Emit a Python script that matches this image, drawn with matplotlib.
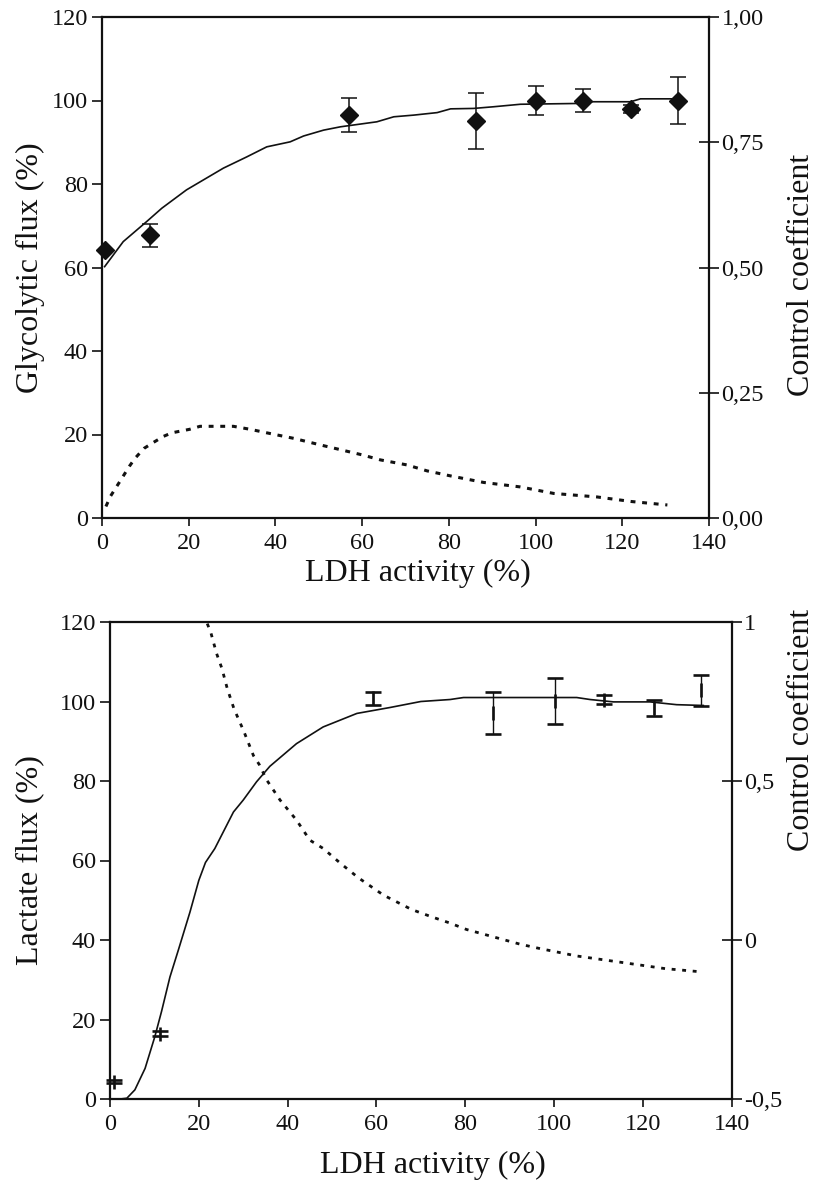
import matplotlib
matplotlib.use("Agg")
import matplotlib.pyplot as plt
import numpy as np

# ---------------- data: top panel (glycolytic flux) ----------------
top_pts_x = [0.6, 11.1, 57.0, 86.2, 100.1, 111.0, 122.1, 132.9]
top_pts_y = [64.2, 67.7, 96.6, 95.05, 100.0, 100.0, 98.0, 100.0]
top_pts_err = [0.0, 2.7, 4.1, 6.65, 3.5, 2.8, 0.9, 5.6]

top_fit_x = [0.6, 4.9, 10.3, 13.8, 19.5, 28.0, 33.4, 38.0, 43.4, 46.5, 51.1, 55.0,
             63.4, 67.3, 71.9, 77.3, 80.4, 85.7, 90.3, 96.5, 110.4, 111.9, 121.9,
             124.2, 133.4]
top_fit_y = [60.2, 66.2, 71.0, 74.2, 78.6, 83.8, 86.5, 88.9, 90.1, 91.5, 92.9, 93.7,
             94.9, 96.1, 96.5, 97.1, 98.0, 98.1, 98.5, 99.1, 99.3, 99.7, 99.7,
             100.4, 100.4]

top_cc_x = [0.9, 2.0, 4.2, 6.3, 7.6, 9.7, 11.7, 14.2, 16.1, 20.2, 22.6, 30.3, 34.2,
            38.0, 44.2, 50.3, 54.2, 60.0, 64.2, 70.3, 75.0, 80.4, 88.0, 96.5,
            104.2, 114.2, 122.0, 130.4]
top_cc_y = [0.023, 0.044, 0.074, 0.103, 0.119, 0.139, 0.150, 0.163, 0.170, 0.177,
            0.183, 0.183, 0.177, 0.170, 0.159, 0.146, 0.138, 0.126, 0.116, 0.106,
            0.094, 0.084, 0.071, 0.062, 0.049, 0.042, 0.033, 0.026]

# ---------------- data: bottom panel (lactate flux) ----------------
bot_pts_x = [0.9, 11.3, 59.3, 86.2, 100.2, 111.3, 122.4, 133.0]
bot_pts_y = [4.4, 16.4, 100.8, 97.1, 100.15, 100.5, 98.4, 102.8]
bot_pts_err = [0.3, 0.6, 1.7, 5.4, 5.85, 1.05, 2.1, 3.9]

bot_fit_x = [0.0, 2.3, 3.8, 5.6, 7.9, 10.1, 11.6, 13.5, 15.4, 18.0, 20.0, 21.5, 23.6,
             27.8, 30.0, 33.0, 36.0, 42.0, 48.0, 55.6, 63.1, 70.0, 76.6, 79.6,
             105.1, 108.1, 113.4, 121.6, 127.6, 133.6]
bot_fit_y = [0.0, 0.0, 0.2, 2.3, 7.7, 15.7, 22.0, 30.7, 37.5, 47.0, 55.0, 59.5, 63.0,
             72.2, 75.2, 79.8, 83.7, 89.4, 93.6, 97.0, 98.5, 100.0, 100.5, 101.0,
             101.0, 100.5, 99.9, 99.9, 99.2, 99.0]

bot_cc_x = [21.9, 22.7, 24.0, 25.2, 26.4, 27.9, 30.2, 32.3, 33.6, 35.3, 38.3, 42.0,
            45.0, 48.0, 52.0, 56.0, 61.6, 67.9, 72.4, 76.4, 80.3, 86.3, 92.3, 96.5,
            105.0, 115.0, 125.0, 133.0]
bot_cc_y = [0.995, 0.967, 0.901, 0.854, 0.791, 0.728, 0.654, 0.580, 0.552, 0.503,
            0.440, 0.377, 0.314, 0.288, 0.240, 0.195, 0.141, 0.096, 0.073, 0.054,
            0.033, 0.010, -0.013, -0.026, -0.050, -0.070, -0.090, -0.100]

x_ticks = [0, 20, 40, 60, 80, 100, 120, 140]
top_left_ticks = [0, 20, 40, 60, 80, 100, 120]
top_right_ticks = [0.0, 0.25, 0.5, 0.75, 1.0]
top_right_labels = ["0,00", "0,25", "0,50", "0,75", "1,00"]
bot_left_ticks = [0, 20, 40, 60, 80, 100, 120]
bot_right_ticks = [-0.5, 0.0, 0.5, 1.0]
bot_right_labels = ["-0,5", "0", "0,5", "1"]

# ---------------- figure ----------------
W, H = 820, 1189
plt.rcParams['font.family'] = ['Liberation Serif', 'DejaVu Serif']
fig = plt.figure(figsize=(W / 100, H / 100), dpi=100)

TICK_FS = 17.5
LABEL_FS = 23
SPINE_LW = 1.6
LINE_COLOR = "#111111"


def px_axes(l, r, t, b):
    return fig.add_axes([l / W, 1 - b / H, (r - l) / W, (b - t) / H])


def style(ax, ax2):
    for s in ["left", "bottom", "top"]:
        ax.spines[s].set_linewidth(SPINE_LW)
        ax.spines[s].set_color(LINE_COLOR)
    ax.spines["right"].set_visible(False)
    for s in ["left", "bottom", "top"]:
        ax2.spines[s].set_visible(False)
    ax2.spines["right"].set_linewidth(SPINE_LW)
    ax2.spines["right"].set_color(LINE_COLOR)
    ax.tick_params(axis="y", direction="out", length=7, width=1.2, pad=3,
                   labelsize=TICK_FS, colors=LINE_COLOR)
    ax.tick_params(axis="x", direction="out", length=6, width=1.2, pad=5,
                   labelsize=TICK_FS, colors=LINE_COLOR)
    ax.tick_params(axis="x", top=False)
    ax2.tick_params(axis="y", direction="inout", length=14, width=1.2, pad=2,
                    labelsize=TICK_FS, colors=LINE_COLOR)
    ax.set_facecolor("none")


# ---------- top panel ----------
ax1 = px_axes(102, 709, 17, 518)
ax1b = ax1.twinx()
ax1.set_zorder(ax1b.get_zorder() + 1)
ax1.set_xlim(0, 140)
ax1.set_ylim(0, 120)
ax1b.set_ylim(0, 1.0)
ax1.set_xticks(x_ticks)
ax1.set_yticks(top_left_ticks)
ax1b.set_yticks(top_right_ticks)
ax1b.set_yticklabels(top_right_labels)
style(ax1, ax1b)

ax1.plot(top_fit_x, top_fit_y, color=LINE_COLOR, lw=1.2)
ax1b.plot(top_cc_x, top_cc_y, color=LINE_COLOR, lw=2.2, linestyle=(0, (1.6, 2.2)))
ax1.errorbar(top_pts_x, top_pts_y, yerr=top_pts_err, fmt="D", color=LINE_COLOR,
             ms=9, capsize=6, elinewidth=1.1, capthick=1.1, clip_on=False)

fig.text(418 / W, 1 - 573 / H, "LDH activity (%)", ha="center", va="center",
         fontsize=LABEL_FS, color=LINE_COLOR)
fig.text(30 / W, 1 - 268 / H, "Glycolytic flux (%)", ha="center", va="center",
         rotation=90, fontsize=LABEL_FS, color=LINE_COLOR)
fig.text(802 / W, 1 - 275 / H, "Control coefficient", ha="center", va="center",
         rotation=90, fontsize=LABEL_FS, color=LINE_COLOR)

# ---------- bottom panel ----------
ax2 = px_axes(110, 731.7, 622, 1099)
ax2b = ax2.twinx()
ax2.set_zorder(ax2b.get_zorder() + 1)
ax2.set_xlim(0, 140)
ax2.set_ylim(0, 120)
ax2b.set_ylim(-0.5, 1.0)
ax2.set_xticks(x_ticks)
ax2.set_yticks(bot_left_ticks)
ax2b.set_yticks(bot_right_ticks)
ax2b.set_yticklabels(bot_right_labels)
style(ax2, ax2b)

ax2.plot(bot_fit_x, bot_fit_y, color=LINE_COLOR, lw=1.2)
ax2b.plot(bot_cc_x, bot_cc_y, color=LINE_COLOR, lw=2.0, linestyle=(0, (1.4, 2.4)))
ax2.errorbar(bot_pts_x, bot_pts_y, yerr=bot_pts_err, fmt="|", color=LINE_COLOR,
             ms=10, mew=1.9, capsize=6, elinewidth=1.0, capthick=1.0, clip_on=False)

fig.text(433 / W, 1 - 1165 / H, "LDH activity (%)", ha="center", va="center",
         fontsize=LABEL_FS, color=LINE_COLOR)
fig.text(30 / W, 1 - 860 / H, "Lactate flux (%)", ha="center", va="center",
         rotation=90, fontsize=LABEL_FS, color=LINE_COLOR)
fig.text(802 / W, 1 - 730 / H, "Control coefficient", ha="center", va="center",
         rotation=90, fontsize=LABEL_FS, color=LINE_COLOR)

fig.savefig("out.png", dpi=100, facecolor="white")
